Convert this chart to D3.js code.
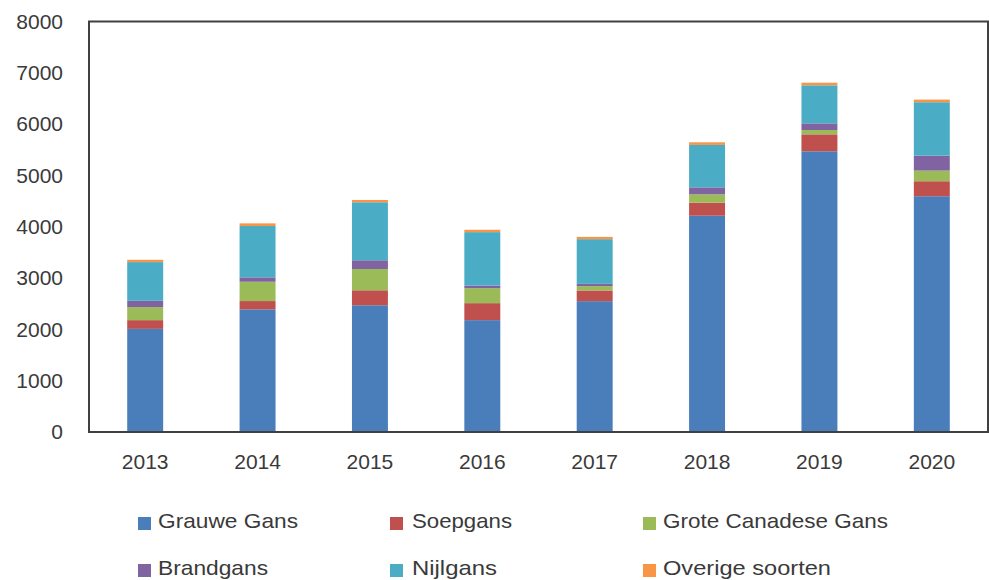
<!DOCTYPE html>
<html>
<head>
<meta charset="utf-8">
<script src="https://cdn.jsdelivr.net/npm/d3@7"></script>
<style>
  html, body { margin: 0; padding: 0; background: #ffffff; }
  svg { display: block; }
  text { font-family: "Liberation Sans", Arial, sans-serif; fill: #3a3a3a; }
</style>
</head>
<body>
<svg id="chart" width="989" height="580"></svg>
<script>
const years = ["2013", "2014", "2015", "2016", "2017", "2018", "2019", "2020"];
const seriesNames = ["Grauwe Gans", "Soepgans", "Grote Canadese Gans", "Brandgans", "Nijlgans", "Overige soorten"];
const grauweGans = [2010, 2390, 2470, 2180, 2550, 4215, 5470, 4595];
const soepgans = [170, 162, 292, 331, 208, 254, 331, 292];
const groteCanadeseGans = [254, 376, 415, 293, 84, 163, 84, 207];
const brandgans = [123, 86, 170, 51, 45, 136, 130, 292];
const nijlgans = [754, 1000, 1130, 1040, 871, 826, 741, 1041];
const overigeSoorten = [45, 52, 45, 46, 45, 52, 51, 51];
const colors = ["#4A7EBB", "#C0504D", "#9BBB59", "#8064A2", "#4BACC6", "#F79646"];
const yTicks = [0, 1000, 2000, 3000, 4000, 5000, 6000, 7000, 8000];

const seriesValues = [grauweGans, soepgans, groteCanadeseGans, brandgans, nijlgans, overigeSoorten];
const rows = years.map((yr, i) => {
  const r = { year: yr };
  seriesNames.forEach((n, k) => { r[n] = seriesValues[k][i]; });
  return r;
});

const svg = d3.select("#chart");
const plotLeft = 89, plotRight = 988, plotTop = 21.5, plotBottom = 432;

const x = d3.scaleBand().domain(years).range([plotLeft, plotRight]).paddingInner(0.68).paddingOuter(0.34);
const y = d3.scaleLinear().domain([0, 8000]).range([plotBottom, plotTop]);
const color = d3.scaleOrdinal().domain(seriesNames).range(colors);

const stacked = d3.stack().keys(seriesNames)(rows);

svg.append("g").selectAll("g").data(stacked).join("g")
  .attr("fill", d => color(d.key))
  .selectAll("rect").data(d => d).join("rect")
  .attr("x", d => x(d.data.year))
  .attr("width", x.bandwidth())
  .attr("y", d => y(d[1]))
  .attr("height", d => y(d[0]) - y(d[1]));

// plot border
svg.append("rect")
  .attr("x", plotLeft).attr("y", plotTop)
  .attr("width", plotRight - plotLeft).attr("height", plotBottom - plotTop)
  .attr("fill", "none").attr("stroke", "#404040").attr("stroke-width", 2);

// y axis labels
const yAxis = d3.axisLeft(y).tickValues(yTicks).tickSize(0).tickPadding(26).tickFormat(d3.format("d"));
const yg = svg.append("g").attr("transform", `translate(${plotLeft},0)`).call(yAxis);
yg.select(".domain").remove();
yg.selectAll("text").style("font-size", "21px").attr("fill", "#3a3a3a")
  .style("font-family", '"Liberation Sans", Arial, sans-serif');

// x axis labels
const xAxis = d3.axisBottom(x).tickSize(0).tickPadding(22);
const xg = svg.append("g").attr("transform", `translate(0,${plotBottom})`).call(xAxis);
xg.select(".domain").remove();
xg.selectAll("text").style("font-size", "21px").attr("fill", "#3a3a3a")
  .style("font-family", '"Liberation Sans", Arial, sans-serif');

// legend
const legendPos = [
  { sx: 138, tx: 158, by: 528, w: 140 },
  { sx: 390, tx: 412, by: 528, w: 100 },
  { sx: 643, tx: 663, by: 528, w: 225 },
  { sx: 138, tx: 158, by: 575, w: 110 },
  { sx: 390, tx: 412, by: 575, w: 85 },
  { sx: 643, tx: 663, by: 575, w: 168 }
];
const lg = svg.append("g");
seriesNames.forEach((n, i) => {
  const p = legendPos[i];
  lg.append("rect").attr("x", p.sx).attr("y", p.by - 11).attr("width", 13).attr("height", 13).attr("fill", color(n));
  lg.append("text").attr("x", p.tx).attr("y", p.by)
    .style("font-size", "21px")
    .attr("textLength", p.w).attr("lengthAdjust", "spacingAndGlyphs")
    .text(n);
});
</script>
</body>
</html>
